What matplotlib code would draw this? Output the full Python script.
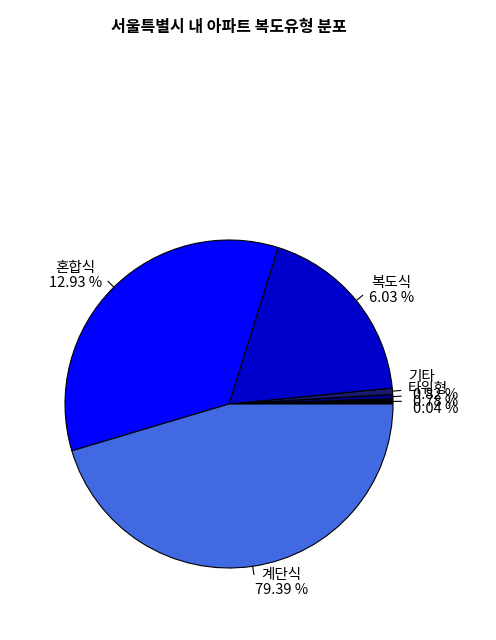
import matplotlib.pyplot as plt
import numpy as np

plt.rcParams['font.family'] = ['Noto Sans CJK KR', 'DejaVu Sans']

names = ['', '타워형', '기타', '복도식', '혼합식', '계단식']
pcts = ['0.04 %', '0.78 %', '0.82 %', '6.03 %', '12.93 %', '79.39 %']
sizes = [1.8, 1.6, 2.2, 67.0, 124.0, 163.4]
colors = ['black', '#000080', '#191970', '#0000CD', '#0000FF', '#4169E1']

fig = plt.figure(figsize=(4.96, 6.4), dpi=100)
ax = fig.add_axes([0, 0, 1, 1])
cx, cy, r = 229, 404, 164

wedges, _ = ax.pie(sizes, colors=colors, startangle=0, counterclock=True,
                   radius=r, center=(cx, cy), frame=True,
                   wedgeprops=dict(edgecolor='black', linewidth=0.8))
ax.set_xlim(0, 496)
ax.set_ylim(640, 0)
ax.set_aspect('equal')
ax.axis('off')
# y axis is flipped, so mirror the wedges
for w in wedges:
    t1, t2 = w.theta1, w.theta2
    w.set_theta1(-t2)
    w.set_theta2(-t1)

cum = np.cumsum([0] + sizes)
# small slices: texts pile up like in the R original
small_y = {0: 409, 1: 402, 2: 395}
small_name_y = {1: 389, 2: 377}
for i, (n, p) in enumerate(zip(names, pcts)):
    a = np.deg2rad((cum[i] + cum[i + 1]) / 2)
    x0, y0 = cx + r * np.cos(a), cy - r * np.sin(a)
    x1, y1 = cx + 1.05 * r * np.cos(a), cy - 1.05 * r * np.sin(a)
    ax.plot([x0, x1], [y0, y1], color='black', lw=0.8)
    tx, ty = cx + 1.1 * r * np.cos(a), cy - 1.1 * r * np.sin(a)
    ha = 'left' if np.cos(a) > 0 else 'right'
    if i < 3:
        ax.text(413, small_y[i], p, ha='left', va='center', fontsize=10.5)
        if n:
            ax.text(408, small_name_y[i], n, ha='left', va='center', fontsize=10.5)
    else:
        ax.text(tx, ty, n + '\n' + p, ha=ha, va='center', fontsize=10.5,
                linespacing=1.1, multialignment='center')

ax.text(229, 27, '서울특별시 내 아파트 복도유형 분포', ha='center', va='center',
        fontsize=11.5, fontweight='bold')
fig.savefig('out.png', dpi=100)
